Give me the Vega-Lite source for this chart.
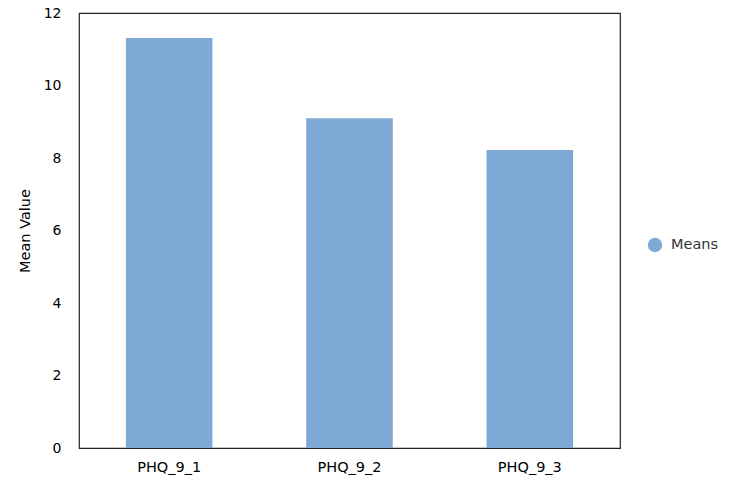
{
  "$schema": "https://vega.github.io/schema/vega-lite/v6.json",
  "width": 541,
  "height": 435,
  "autosize": "none",
  "padding": {"left": 79, "top": 13, "right": 120, "bottom": 45},
  "background": "white",
  "config": {
    "font": "DejaVu Sans",
    "view": {"stroke": "#222222", "strokeWidth": 1.2},
    "axis": {"grid": false, "ticks": false, "labelFont": "DejaVu Sans", "titleFont": "DejaVu Sans", "labelColor": "black", "titleColor": "black", "domainColor": "#222222"}
  },
  "data": {"values": [
    {"item": "PHQ_9_1", "mean": 11.31, "series": "Means"},
    {"item": "PHQ_9_2", "mean": 9.10, "series": "Means"},
    {"item": "PHQ_9_3", "mean": 8.22, "series": "Means"}
  ]},
  "mark": {"type": "bar", "color": "#7ea9d4"},
  "encoding": {
    "x": {"field": "item", "type": "nominal", "sort": null,
      "scale": {"paddingInner": 0.52, "paddingOuter": 0.26},
      "axis": {"title": null, "labelAngle": 0, "labelFontSize": 14.5, "labelPadding": 12}},
    "y": {"field": "mean", "type": "quantitative",
      "scale": {"domain": [0, 12], "nice": false},
      "axis": {"title": "Mean Value", "values": [0, 2, 4, 6, 8, 10, 12], "labelFontSize": 14, "labelPadding": 18, "titleFontSize": 14.5, "titleFontWeight": "normal", "titlePadding": 11, "domain": false}},
    "color": {"field": "series", "type": "nominal",
      "scale": {"range": ["#7ea9d4"]},
      "legend": {"title": null, "orient": "none", "legendX": 568, "legendY": 224, "symbolType": "circle", "symbolSize": 210, "labelFontSize": 14.5, "labelColor": "#333333", "labelOffset": 8}}
  }
}
